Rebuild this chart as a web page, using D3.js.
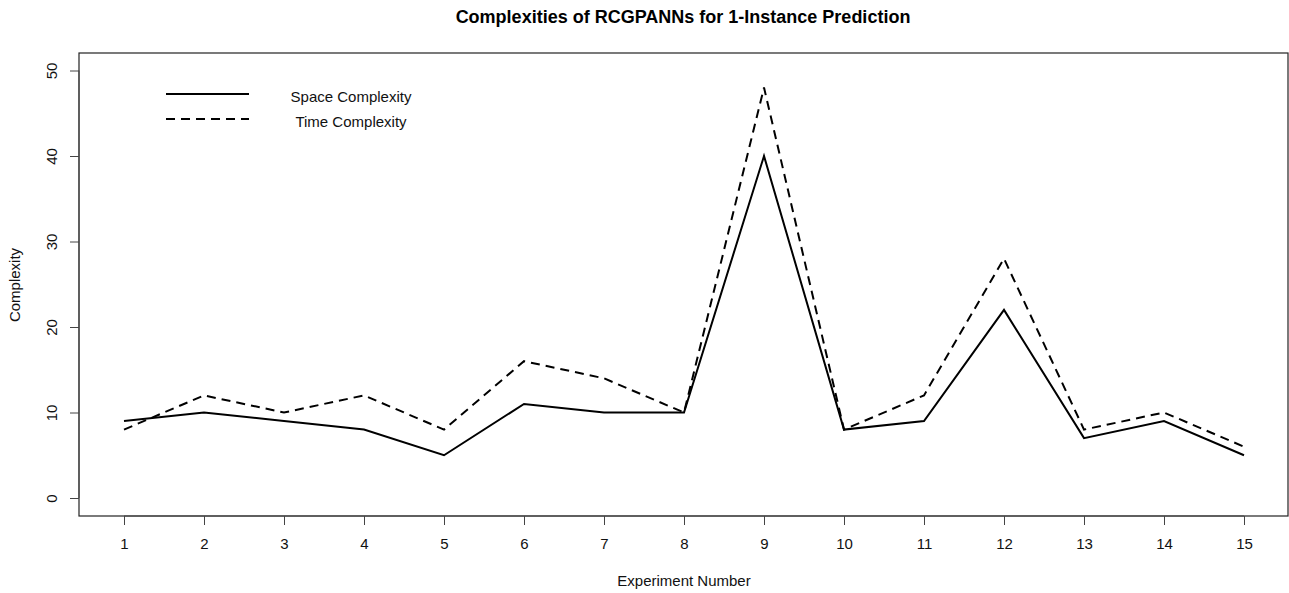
<!DOCTYPE html>
<html>
<head>
<meta charset="utf-8">
<script src="https://cdn.jsdelivr.net/npm/d3@7"></script>
<style>
  html, body { margin: 0; padding: 0; background: #fff; }
  svg { display: block; font-family: "Liberation Sans", Arial, sans-serif; }
</style>
</head>
<body>
<svg id="chart" width="1289" height="593"></svg>
<script>
// Experiment numbers and complexity measurements
const experiments = [1, 2, 3, 4, 5, 6, 7, 8, 9, 10, 11, 12, 13, 14, 15];
const spaceComplexity = [9, 10, 9, 8, 5, 11, 10, 10, 40, 8, 9, 22, 7, 9, 5];
const timeComplexity  = [8, 12, 10, 12, 8, 16, 14, 10, 48, 8, 12, 28, 8, 10, 6];
const yTicks = [0, 10, 20, 30, 40, 50];
const seriesNames = ["Space Complexity", "Time Complexity"];

const svg = d3.select("#chart");
const box = { left: 79, right: 1288, top: 53, bottom: 516 };

const x = d3.scaleLinear().domain([1, 15]).range([124, 1244]);
const y = d3.scaleLinear().domain([0, 50]).range([498, 70.5]);

// Plot frame
svg.append("rect")
  .attr("x", box.left).attr("y", box.top)
  .attr("width", box.right - box.left).attr("height", box.bottom - box.top)
  .attr("fill", "none").attr("stroke", "#222").attr("stroke-width", 1.2);

// X axis
const xAxis = svg.append("g")
  .attr("transform", `translate(0,${box.bottom})`)
  .call(d3.axisBottom(x).tickValues(experiments).tickSize(9).tickPadding(13).tickFormat(d3.format("d")));
xAxis.select(".domain").remove();
xAxis.selectAll("line").attr("stroke", "#444");
xAxis.selectAll("text").attr("font-size", 15).attr("fill", "#111");
svg.append("line")
  .attr("x1", x(1)).attr("x2", x(15))
  .attr("y1", box.bottom).attr("y2", box.bottom)
  .attr("stroke", "#444");

// Y axis
const yAxis = svg.append("g")
  .attr("transform", `translate(${box.left},0)`)
  .call(d3.axisLeft(y).tickValues(yTicks).tickSize(9).tickPadding(0).tickFormat(d3.format("d")));
yAxis.select(".domain").remove();
yAxis.selectAll("line").attr("stroke", "#444");
yAxis.selectAll("text").remove();
yAxis.selectAll(".tick").append("text")
  .attr("transform", "translate(-22,0) rotate(-90)")
  .attr("text-anchor", "middle")
  .attr("font-size", 15)
  .attr("fill", "#111")
  .text(d => d);
svg.append("line")
  .attr("x1", box.left).attr("x2", box.left)
  .attr("y1", y(0)).attr("y2", y(50))
  .attr("stroke", "#444");

// Series lines
const line = vals => d3.line()
  .x((d, i) => x(experiments[i]))
  .y(d => y(d))(vals);

svg.append("path")
  .attr("d", line(spaceComplexity))
  .attr("fill", "none").attr("stroke", "#000").attr("stroke-width", 2)
  .attr("stroke-linejoin", "miter");

svg.append("path")
  .attr("d", line(timeComplexity))
  .attr("fill", "none").attr("stroke", "#000").attr("stroke-width", 2)
  .attr("stroke-dasharray", "9,6");

// Legend
const legend = svg.append("g");
[0, 1].forEach(i => {
  const ly = 94 + i * 25;
  legend.append("line")
    .attr("x1", 166).attr("x2", 249).attr("y1", ly).attr("y2", ly)
    .attr("stroke", "#000").attr("stroke-width", 2)
    .attr("stroke-dasharray", i === 1 ? "9,6" : null);
  legend.append("text")
    .attr("x", 351).attr("y", ly + 8)
    .attr("text-anchor", "middle")
    .attr("font-size", 15).attr("fill", "#111")
    .text(seriesNames[i]);
});

// Titles
svg.append("text")
  .attr("x", 683).attr("y", 23)
  .attr("text-anchor", "middle")
  .attr("font-size", 18).attr("font-weight", "bold")
  .text("Complexities of RCGPANNs for 1-Instance Prediction");

svg.append("text")
  .attr("x", 684).attr("y", 586)
  .attr("text-anchor", "middle")
  .attr("font-size", 15).attr("fill", "#111")
  .text("Experiment Number");

svg.append("text")
  .attr("transform", "translate(20,285) rotate(-90)")
  .attr("text-anchor", "middle")
  .attr("font-size", 15).attr("fill", "#111")
  .text("Complexity");
</script>
</body>
</html>
